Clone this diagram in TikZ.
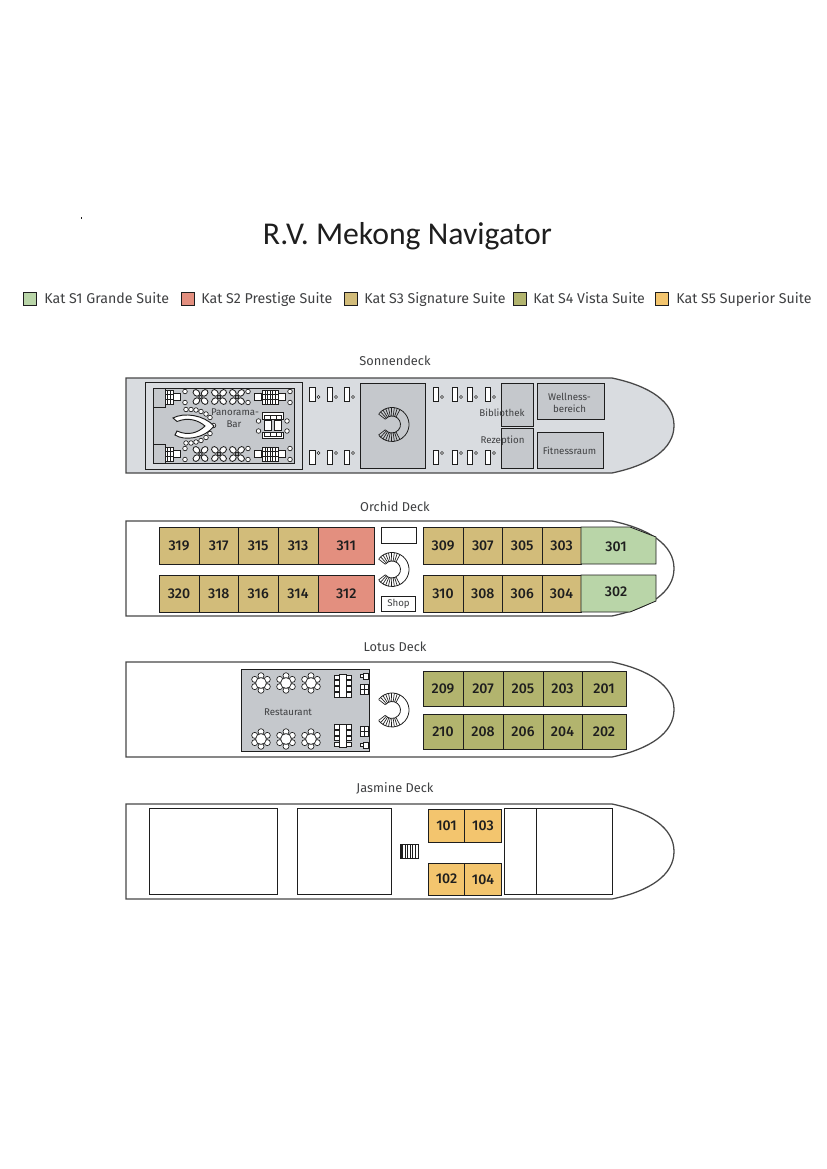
\documentclass[tikz,border=0pt]{standalone}
\usepackage{fontspec}
\setmainfont{Fira Sans}
\newfontfamily\titlefont{Carlito}
\newfontfamily\roomfont{Fira Sans Medium}
\definecolor{sone}{HTML}{B9D5A8}
\definecolor{stwo}{HTML}{E38F7F}
\definecolor{sthree}{HTML}{D2BC7A}
\definecolor{sfour}{HTML}{B2B46E}
\definecolor{sfive}{HTML}{F3C56E}
\definecolor{deckgrey}{HTML}{D9DCE0}
\definecolor{areagrey}{HTML}{C5C8CC}
\definecolor{ink}{HTML}{1E1E1E}
\definecolor{labelgrey}{HTML}{3F4042}
\definecolor{hullline}{HTML}{484848}
\tikzset{
  hull/.style={draw=hullline,line width=.95pt},
  roombox/.style={draw=ink,line width=.6pt},
  roomtext/.style={font=\roomfont\fontsize{10.6}{12}\selectfont,text=ink,inner sep=0pt},
  decktitle/.style={font=\fontsize{9.6}{11}\selectfont,text=labelgrey,inner sep=0pt,anchor=base},
  smalltext/.style={font=\fontsize{7.3}{9}\selectfont,text=labelgrey,inner sep=0pt,align=center},
  legendtext/.style={font=\fontsize{10.65}{12}\selectfont,text=labelgrey,anchor=base west,inner sep=0pt},
  thin ink/.style={draw=ink,line width=.5pt},
  petal/.pic={\draw[thin ink,fill=white] (0,0) circle[radius=2.3];},
  flower/.pic={
    \foreach \a in {30,90,...,330}{\draw[thin ink,fill=white] (\a:7.3) ellipse[x radius=3,y radius=3];}
    \draw[thin ink,fill=white] (0,0) circle[radius=5.4];
  },
  fourtop/.pic={
    \foreach \a in {45,135,225,315}{\draw[draw=ink,line width=.65pt,fill=white,rotate=\a] (5.8,0) ellipse[x radius=3.7,y radius=2.9];}
    \draw[thin ink,fill=areagrey] (0,0) circle[radius=1.8];
  },
  sofa/.pic={
    \draw[draw=ink,line width=.6pt,fill=white] (-4,-7) rectangle (4,7);
    \draw[thin ink] (-1.3,-7) -- (-1.3,7) (1.3,-7) -- (1.3,7) (-4,-2.4) -- (4,-2.4) (-4,2.4) -- (4,2.4);
  },
  seat/.pic={\draw[thin ink,fill=white] (-3.5,-3.5) rectangle (3.5,3.5);},
  longtable/.pic={
    \foreach \s in {-1,1}{\foreach \y in {-8.8,-2.9,2.9,8.8}{\draw[thin ink,fill=white] (\s*5.8-2.4,\y-2.3) rectangle (\s*5.8+2.4,\y+2.3);}}
    \draw[thin ink,fill=white] (-3.6,-11.5) rectangle (3.6,11.5);
  },
  chairpair/.pic={
    \draw[thin ink,fill=white] (-4,-5) rectangle (4,5);
    \draw[thin ink] (0,-5) -- (0,5) (-4,0) -- (4,0);
  },
  chairone/.pic={
    \draw[thin ink,fill=white] (-1,-3) rectangle (4,3);
    \draw[thin ink,fill=white] (-4,-1.6) rectangle (-1,1.6);
  },
  spiral/.pic={
    \draw[draw=ink,line width=.6pt] (-140:17) arc[start angle=-140,end angle=140,radius=17];
    \draw[draw=ink,line width=.6pt] (-140:8.5) arc[start angle=-140,end angle=140,radius=8.5];
    \foreach \a in {62,72,...,142}{\draw[thin ink] (\a:8.5) -- (\a:17);\draw[thin ink] (-\a:8.5) -- (-\a:17);}
  },
  bedunit/.pic={
    \draw[draw=ink,line width=.65pt,fill=white] (-2.7,-7) rectangle (2.7,7);
    \draw[thin ink,fill=white] (6,#1) circle[radius=1.5];
  },
  bedunit/.default=3
}
\newcommand{\hullshape}[2]{%
  (126,#1) -- (612,#1) .. controls (650,#1+8) and (674,#1+24) .. (674,#1+47.5)
  .. controls (674,#1+71) and (650,#1+87) .. (612,#1+95) -- (126,#1+95) -- cycle}
\newcommand{\room}[6]{\draw[roombox,fill=#5] (#1,#2) rectangle node[roomtext] (r#6) {#6} (#3,#4);}
\begin{document}
\begin{tikzpicture}[x=.75pt,y=-.75pt]
\useasboundingbox (0,0) rectangle (826,1169);
\fill[white] (0,0) rectangle (826,1169);
\fill[ink] (80.8,217) rectangle (81.5,219);
\node[font=\titlefont\fontsize{23.8}{30}\selectfont,text=ink,inner sep=0pt,anchor=base] (title) at (407.5,244.5) {R.V. Mekong Navigator};
% legend
\foreach \x/\c/\t/\tx [count=\i] in {23.5/sone/Kat S1 Grande Suite/44,181/stwo/Kat S2 Prestige Suite/201,344/sthree/Kat S3 Signature Suite/364,513.5/sfour/Kat S4 Vista Suite/533,655.5/sfive/Kat S5 Superior Suite/676}{
  \draw[draw=ink,line width=.7pt,fill=\c] (\x,292.5) rectangle ++(13,13);
  \node[legendtext] (leg\i) at (\tx,304) {\t};
}
% deck titles
\node[decktitle] (dtitle1) at (395,365) {Sonnendeck};
\node[decktitle] (dtitle2) at (395,511) {Orchid Deck};
\node[decktitle] (dtitle3) at (395,651) {Lotus Deck};
\node[decktitle] (dtitle4) at (395,792.5) {Jasmine Deck};
% --- Sonnendeck
\draw[hull,fill=deckgrey] \hullshape{378}{};
\draw[roombox] (145.5,382.5) rectangle (302.5,469.5);
\draw[draw=ink,line width=.6pt,fill=areagrey] (153.5,388.5) rectangle (294.5,463);
\draw[thin ink] (153.5,407.5) -- (165,407.5) -- (165,388.5);
\draw[thin ink] (153.5,444.5) -- (165,444.5) -- (165,463);
\foreach \y in {397,454}{
  \pic at (169,\y) {sofa};
  \fill[ink] (164.5,\y-7) rectangle (166,\y+7);
  \pic at (177,\y) {seat};
  \foreach \x in {200.5,219,237}{\pic at (\x,\y) {fourtop};}
  \foreach \x in {185,248,290}{\pic at (\x,\y-5.5) {petal};\pic at (\x,\y+5.5) {petal};}
  \pic at (258,\y) {seat};
  \pic at (266.5,\y) {sofa};
  \pic at (274,\y) {sofa};
  \pic at (282,\y) {seat};
}
% bar counter
\foreach \x/\y in {186/409.5,191/409.5,196/410,201/411.5,206/414,210/417.5,186/443,191/443,196/442,201/440.5,206/437.5,210/433.5,213.5/425.5}{
  \draw[thin ink,fill=white] (\x,\y) circle[radius=2.3];
}
\draw[draw=ink,line width=.7pt,fill=white] (173,418) .. controls (184,412) and (204,415) .. (214,426)
  .. controls (204,439) and (184,441) .. (175,435) -- (177,431)
  .. controls (188,436) and (198,433) .. (205,426) .. controls (198,420) and (188,417) .. (177,421.5) -- cycle;
% lounge
\draw[thin ink,fill=white] (262,412) rectangle (283,419);
\draw[thin ink] (264,415) rectangle (281,419) (270,415) -- (270,419) (276,415) -- (276,419);
\draw[thin ink,fill=white] (262,432) rectangle (283,438.5);
\draw[thin ink] (264,432) rectangle (281,436) (270,432) -- (270,436) (276,432) -- (276,436);
\draw[thin ink,fill=white] (264,420.5) rectangle (271,430.5);
\draw[thin ink,fill=white] (274,420.5) rectangle (281,430.5);
\foreach \x/\y in {258.5/421,258.5/431,287/421,287/431}{\pic at (\x,\y) {petal};}
\node[smalltext] (panorama) at (235,412.5) {Panorama-};
\node[smalltext] (bar) at (234,424.5) {Bar};
% small units
\foreach \x in {312.5,330,347,436,455,470,488}{
  \pic at (\x,394) {bedunit=3};
  \pic at (\x,457) {bedunit=-4};
}
\draw[roombox,fill=areagrey] (360,383) rectangle (425,468);
\pic at (392,424.5) {spiral};
\draw[roombox,fill=areagrey] (501,383.5) rectangle (533.5,426);
\draw[roombox,fill=areagrey] (501,428.5) rectangle (533.5,468.5);
\draw[roombox,fill=areagrey] (537.5,383.5) rectangle (604,419);
\draw[roombox,fill=areagrey] (537.5,432.5) rectangle (603,468.5);
\node[smalltext] (biblio) at (502,412.5) {Bibliothek};
\node[smalltext] (rezep) at (502.5,441) {Rezeption};
\node[smalltext] (well) at (569.5,403) {Wellness-\\bereich};
\node[smalltext] (fit) at (569.5,450.5) {Fitnessraum};
% --- Orchid deck
\draw[hull,fill=white] \hullshape{521}{};
\foreach \a/\b/\n in {159/199/319,199/238.5/317,238.5/278/315,278/318/313,423/463/309,463/502.5/307,502.5/542/305,542/581/303}{
  \room{\a}{527}{\b}{564}{sthree}{\n}}
\foreach \a/\b/\n in {159/199/320,199/238.5/318,238.5/278/316,278/318/314,423/463/310,463/502.5/308,502.5/542/306,542/581/304}{
  \room{\a}{575}{\b}{612}{sthree}{\n}}
\room{318}{527}{374.5}{564}{stwo}{311}
\room{318}{575}{374.5}{612}{stwo}{312}
\draw[roombox,fill=sone] (581,527) -- (630,527) -- (656,537) -- (656,564) -- (581,564) -- cycle;
\node[roomtext] (r301) at (616,546.5) {301};
\draw[roombox,fill=sone] (581,575) -- (656,575) -- (656,601) -- (630,612) -- (581,612) -- cycle;
\node[roomtext] (r302) at (616,592) {302};
\draw[roombox,fill=white] (381.5,527.5) rectangle (416.5,543.5);
\draw[roombox,fill=white] (381.5,596.5) rectangle (415.5,611.5);
\node[smalltext] (shop) at (398.5,604) {Shop};
\pic at (392,569.5) {spiral};
% --- Lotus deck
\draw[hull,fill=white] \hullshape{662}{};
\draw[draw=ink,line width=.7pt,fill=areagrey] (241.5,669.5) rectangle (369,751.5);
\foreach \x in {261,286,311}{
  \pic at (\x,683) {flower};
  \pic at (\x,739) {flower};
}
\pic at (343,686) {longtable};
\pic at (343,735.5) {longtable};
\pic at (364,676) {chairone};
\pic at (364,689) {chairpair};
\pic at (364,731.5) {chairpair};
\pic at (364,745) {chairone};
\node[smalltext] (rest) at (288,712) {Restaurant};
\pic at (392,710) {spiral};
\foreach \a/\b/\n in {423/463/209,463/503/207,503/543/205,543/582/203,582/626/201}{
  \room{\a}{671}{\b}{706}{sfour}{\n}}
\foreach \a/\b/\n in {423/463/210,463/503/208,503/543/206,543/582/204,582/626/202}{
  \room{\a}{714}{\b}{749}{sfour}{\n}}
% --- Jasmine deck
\draw[hull,fill=white] \hullshape{804}{};
\draw[roombox] (149.5,808.5) rectangle (277.5,894.5);
\draw[roombox] (297.5,808.5) rectangle (391.5,894.5);
\draw[roombox] (504.5,808.5) rectangle (612.5,894.5);
\draw[roombox] (536.5,808.5) -- (536.5,894.5);
\room{428.5}{809}{464.5}{842.5}{sfive}{101}
\room{464.5}{809}{501.5}{842.5}{sfive}{103}
\room{428.5}{863}{464.5}{895.5}{sfive}{102}
\room{464.5}{863}{501.5}{895.5}{sfive}{104}
\draw[thin ink,fill=white] (400.5,844.5) rectangle (418,858.5);
\fill[ink] (400.5,844.5) rectangle (403,858.5);
\foreach \x in {405,407.5,410,412.5,415}{\draw[thin ink] (\x,844.5) -- (\x,858.5);}
\end{tikzpicture}
\end{document}
